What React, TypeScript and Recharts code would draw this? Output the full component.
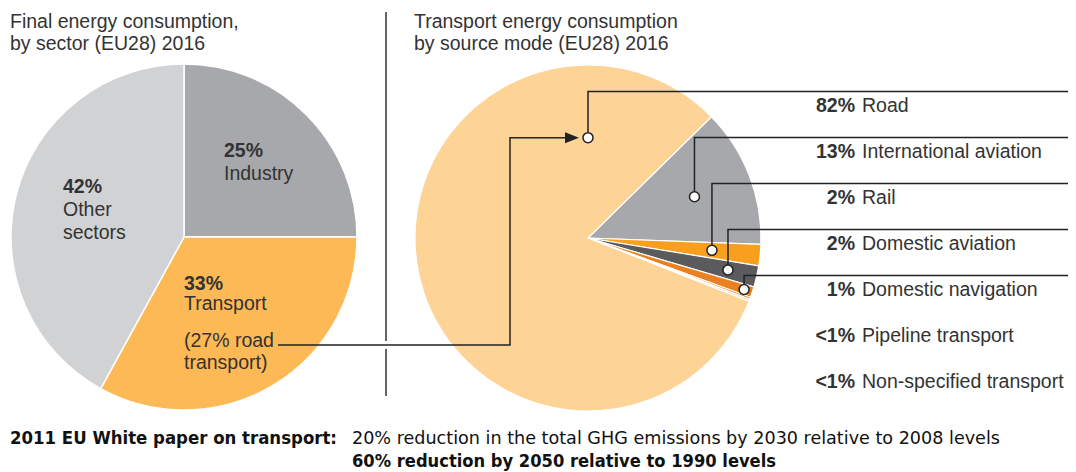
import React from 'react'
import { Cell, Pie, PieChart } from 'recharts'

// left pie: final energy consumption by sector
const sectorNames = ['Industry', 'Transport', 'Other sectors']
const sectorValues = [25, 33, 42]
const sectorColors = ['#a7a8ab', '#fdb955', '#d1d2d4']

// right pie: transport by mode (legend order, top to bottom)
const modeNames = [
  'Road',
  'International aviation',
  'Rail',
  'Domestic aviation',
  'Domestic navigation',
  'Pipeline transport',
  'Non-specified transport',
]
const modeValues = [82, 13, 2, 2, 1, 0.2, 0.2]
const modeLabels = ['82%', '13%', '2%', '2%', '1%', '<1%', '<1%']
const modeColors = ['#fdd396', '#a7a8ab', '#f8a01e', '#5b5b5d', '#e98022', '#e98022', '#fdd396']

const TEXT = '#333333'
const FONT = '"Liberation Sans", Arial, sans-serif'
const FS = 19.5
const RAD = Math.PI / 180

// marker placement inside slices (fraction of radius), null = no marker
const markerR = [0.58, 0.66, 0.72, 0.83, 0.95, null, null]
const ROW_Y = 105
const ROW_GAP = 46
const LINE_END = 1068

const sectorData = sectorNames.map((name, i) => ({ name, value: sectorValues[i] }))
const legendRows = modeNames.map((name, i) => ({ name, value: modeValues[i], row: i }))
// pie drawn clockwise from international aviation, road last
const modeData = [...legendRows.slice(1), legendRows[0]]

const renderModeLabel = (p: any) => {
  const row = p.payload?.row ?? p.row
  const f = markerR[row]
  if (f == null) return <g />
  const angle = row === 0 ? 90 : p.midAngle
  const r = p.outerRadius * f
  const mx = p.cx + r * Math.cos(-angle * RAD)
  const my = p.cy + r * Math.sin(-angle * RAD)
  const lineY = ROW_Y + ROW_GAP * row - 13.5
  return (
    <g>
      <path d={`M${mx},${my} V${lineY} H${LINE_END}`} fill="none" stroke="#222" strokeWidth={1.5} />
      {row === 0 && (
        <g>
          <path d={`M278,345 H510 V${my} H${mx - 20}`} fill="none" stroke="#222" strokeWidth={1.5} />
          <polygon points={`${mx - 9},${my} ${mx - 23},${my - 5.5} ${mx - 23},${my + 5.5}`} fill="#222" />
        </g>
      )}
      <circle cx={mx} cy={my} r={5} fill="#fff" stroke="#222" strokeWidth={1.5} />
    </g>
  )
}

const T = (props: any) => (
  <text fontFamily={FONT} fontSize={FS} fill={TEXT} {...props} />
)

export default function App() {
  return (
    <div style={{ position: 'absolute', left: 0, top: 0, width: 1076, height: 472, background: '#fff' }}>
      <PieChart width={1076} height={472} margin={{ top: 0, right: 0, bottom: 0, left: 0 }}>
        <Pie
          data={sectorData}
          dataKey="value"
          cx={184}
          cy={237}
          outerRadius={173}
          startAngle={90}
          endAngle={-270}
          stroke="#fff"
          strokeWidth={1.5}
          isAnimationActive={false}
        >
          {sectorData.map((d, i) => (
            <Cell key={d.name} fill={sectorColors[i]} />
          ))}
        </Pie>
        <Pie
          data={modeData}
          dataKey="value"
          cx={588}
          cy={238}
          outerRadius={173}
          startAngle={44.5}
          endAngle={-315.5}
          stroke="#fff"
          strokeWidth={1.2}
          label={renderModeLabel}
          labelLine={false}
          isAnimationActive={false}
        >
          {modeData.map((d) => (
            <Cell key={d.name} fill={modeColors[d.row]} />
          ))}
        </Pie>
      </PieChart>
      <svg
        width={1076}
        height={472}
        style={{ position: 'absolute', left: 0, top: 0, pointerEvents: 'none' }}
      >
        {/* titles */}
        <T x={10} y={28}>Final energy consumption,</T>
        <T x={10} y={50}>by sector (EU28) 2016</T>
        <T x={414} y={28}>Transport energy consumption</T>
        <T x={414} y={50}>by source mode (EU28) 2016</T>

        {/* divider */}
        <path d="M386,12 V341 M386,349 V396" stroke="#333" strokeWidth={1.5} />

        {/* left pie labels */}
        <T x={224} y={157} fontWeight="bold">{sectorValues[0]}%</T>
        <T x={224} y={180}>{sectorNames[0]}</T>
        <T x={63} y={193} fontWeight="bold">{sectorValues[2]}%</T>
        <T x={63} y={216}>Other</T>
        <T x={63} y={239}>sectors</T>
        <T x={184} y={290} fontWeight="bold">{sectorValues[1]}%</T>
        <T x={184} y={310}>{sectorNames[1]}</T>
        <T x={184} y={347}>(27% road</T>
        <T x={184} y={369}>transport)</T>

        {/* right legend */}
        {modeNames.map((name, i) => (
          <g key={name}>
            <T x={855} y={ROW_Y + ROW_GAP * i + 7} textAnchor="end" fontWeight="bold">
              {modeLabels[i]}
            </T>
            <T x={862} y={ROW_Y + ROW_GAP * i + 7}>{name}</T>
          </g>
        ))}

        {/* footer */}
        <text
          x={10}
          y={444}
          fontFamily='"Liberation Sans Narrow", "DejaVu Sans Condensed", sans-serif'
          fontSize={17}
          fontWeight="bold"
          fill="#111"
          textLength={327}
          lengthAdjust="spacingAndGlyphs"
        >
          2011 EU White paper on transport:
        </text>
        <text
          x={352}
          y={444}
          fontFamily='"Liberation Sans Narrow", "DejaVu Sans Condensed", sans-serif'
          fontSize={17}
          fill="#111"
          textLength={648}
          lengthAdjust="spacingAndGlyphs"
        >
          20% reduction in the total GHG emissions by 2030 relative to 2008 levels
        </text>
        <text
          x={352}
          y={467}
          fontFamily='"Liberation Sans Narrow", "DejaVu Sans Condensed", sans-serif'
          fontSize={17}
          fontWeight="bold"
          fill="#111"
          textLength={424}
          lengthAdjust="spacingAndGlyphs"
        >
          60% reduction by 2050 relative to 1990 levels
        </text>
      </svg>
    </div>
  )
}
